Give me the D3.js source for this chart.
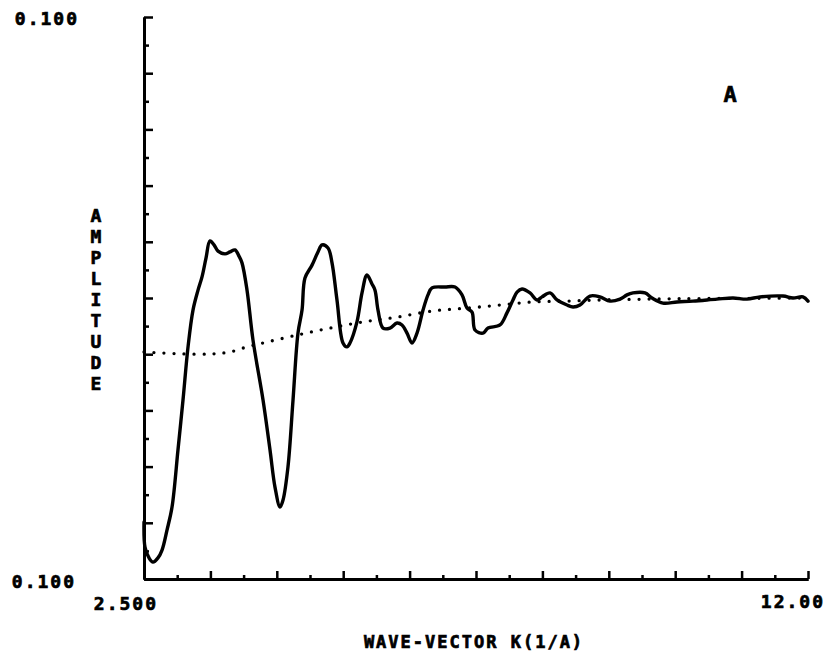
<!DOCTYPE html>
<html>
<head>
<meta charset="utf-8">
<script src="https://cdn.jsdelivr.net/npm/d3@7"></script>
<style>
  html, body { margin: 0; padding: 0; background: #fff; }
  svg { display: block; }
  text { font-family: "DejaVu Sans Mono", monospace; font-weight: bold; fill: #000; stroke: #000; stroke-width: 0.7; }
</style>
</head>
<body>
<script>
// EXAFS amplitude vs wave-vector (solid: measured amplitude, dotted: smooth background)
const kSolid = [2.500, 2.514, 2.572, 2.629, 2.700, 2.758, 2.829, 2.901, 2.986, 3.058, 3.130, 3.201, 3.273, 3.330, 3.387, 3.444, 3.502, 3.559, 3.659, 3.730, 3.802, 3.859, 3.902, 3.974, 4.059, 4.203, 4.303, 4.374, 4.446, 4.489, 4.560, 4.632, 4.703, 4.761, 4.803, 4.904, 4.989, 5.047, 5.133, 5.190, 5.261, 5.347, 5.404, 5.447, 5.547, 5.619, 5.690, 5.762, 5.805, 5.848, 5.919, 6.020, 6.120, 6.191, 6.263, 6.334, 6.406, 6.492, 6.563, 6.620, 6.806, 6.950, 7.050, 7.121, 7.193, 7.236, 7.350, 7.422, 7.593, 7.693, 7.779, 7.837, 7.908, 8.023, 8.123, 8.194, 8.309, 8.409, 8.552, 8.638, 8.738, 8.881, 9.024, 9.167, 9.310, 9.410, 9.496, 9.668, 9.768, 9.925, 10.126, 10.355, 10.698, 10.927, 11.127, 11.313, 11.642, 11.785, 11.928, 12.000];
const ampSolid = [-0.0797, -0.0886, -0.0925, -0.0940, -0.0925, -0.0897, -0.0826, -0.0744, -0.0541, -0.0363, -0.0174, -0.0043, 0.0028, 0.0075, 0.0142, 0.0203, 0.0189, 0.0167, 0.0157, 0.0164, 0.0171, 0.0149, 0.0125, 0.0028, -0.0149, -0.0363, -0.0541, -0.0673, -0.0744, -0.0719, -0.0601, -0.0363, -0.0125, -0.0043, 0.0071, 0.0117, 0.0164, 0.0189, 0.0178, 0.0125, -0.0007, -0.0160, -0.0174, -0.0160, -0.0085, 0.0018, 0.0082, 0.0050, 0.0028, -0.0043, -0.0107, -0.0107, -0.0089, -0.0096, -0.0125, -0.0160, -0.0125, -0.0043, 0.0011, 0.0036, 0.0039, 0.0039, 0.0011, -0.0036, -0.0050, -0.0114, -0.0125, -0.0107, -0.0096, -0.0053, -0.0007, 0.0021, 0.0032, 0.0018, -0.0007, 0.0004, 0.0018, -0.0007, -0.0025, -0.0032, -0.0025, 0.0007, 0.0004, -0.0011, -0.0004, 0.0011, 0.0018, 0.0018, 0.0000, -0.0018, -0.0014, -0.0011, -0.0004, 0.0000, -0.0004, 0.0004, 0.0007, 0.0000, 0.0004, -0.0011];

const kDotted = [2.500, 3.058, 3.487, 3.730, 3.974, 4.203, 4.689, 5.161, 5.633, 6.120, 6.635, 7.121, 7.593, 8.066, 8.552, 9.024, 9.496, 9.983, 10.455, 11.170, 12.000];
const ampDotted = [-0.0192, -0.0199, -0.0199, -0.0192, -0.0174, -0.0160, -0.0132, -0.0107, -0.0085, -0.0068, -0.0046, -0.0036, -0.0025, -0.0014, -0.0011, -0.0007, -0.0005, -0.0003, -0.0002, -0.0001, 0.0000];

const xTickValues = d3.range(21).map(i => 2.5 + i * 0.475);
const yTickValues = d3.range(21).map(i => -0.1 + i * 0.01);
const xTickLabels = ["2.500", "12.00"];
const yTickLabels = ["0.100", "0.100"];
const xTitle = "WAVE-VECTOR K(1/A)";
const yTitle = "AMPLITUDE";
const panelLabel = "A";

const W = 833, H = 660;
const svg = d3.select("body").append("svg").attr("width", W).attr("height", H);

const x = d3.scaleLinear().domain([2.5, 12]).range([144, 808]);
const y = d3.scaleLinear().domain([-0.1, 0.1]).range([579, 17]);

function styleAxis(g) {
  g.selectAll("path.domain").attr("stroke", "#000").attr("stroke-width", 3);
  g.selectAll(".tick line").attr("stroke", "#000").attr("stroke-width", 2.5);
  g.selectAll(".tick text").remove();
}

// y axis: ticks pointing into the plot, long every second tick
const yMinor = yTickValues.filter((d, i) => i % 2 === 1);
const yMajor = yTickValues.filter((d, i) => i % 2 === 0);
svg.append("g").attr("transform", "translate(144,0)")
  .call(d3.axisRight(y).tickValues(yMinor).tickSize(5).tickSizeOuter(0)).call(styleAxis);
svg.append("g").attr("transform", "translate(144,0)")
  .call(d3.axisRight(y).tickValues(yMajor).tickSize(9).tickSizeOuter(0)).call(styleAxis);

// x axis: ticks pointing upward
const xMinor = xTickValues.filter((d, i) => i % 2 === 1);
const xMajor = xTickValues.filter((d, i) => i % 2 === 0);
svg.append("g").attr("transform", "translate(0,579)")
  .call(d3.axisTop(x).tickValues(xMinor).tickSize(4).tickSizeOuter(0)).call(styleAxis);
svg.append("g").attr("transform", "translate(0,579)")
  .call(d3.axisTop(x).tickValues(xMajor).tickSize(8).tickSizeOuter(0)).call(styleAxis);

// end labels
svg.append("text").attr("x", 79).attr("y", y(0.1) + 8).attr("text-anchor", "end")
  .attr("font-size", 18).attr("letter-spacing", 2).text(yTickLabels[0]);
svg.append("text").attr("x", 76).attr("y", y(-0.1) + 9).attr("text-anchor", "end")
  .attr("font-size", 18).attr("letter-spacing", 2).text(yTickLabels[1]);
svg.append("text").attr("x", x(2.5) + 14).attr("y", 610).attr("text-anchor", "end")
  .attr("font-size", 18).attr("letter-spacing", 2).text(xTickLabels[0]);
svg.append("text").attr("x", x(12) + 17).attr("y", 608).attr("text-anchor", "end")
  .attr("font-size", 18).attr("letter-spacing", 2).text(xTickLabels[1]);

// axis titles
svg.append("text").attr("x", 474).attr("y", 648).attr("text-anchor", "middle")
  .attr("font-size", 17).attr("letter-spacing", 2).text(xTitle);
svg.append("g").selectAll("text").data(yTitle.split("")).join("text")
  .attr("x", 96).attr("y", (d, i) => 222 + i * 21).attr("text-anchor", "middle")
  .attr("font-size", 18).text(d => d);

svg.append("text").attr("x", 730).attr("y", 102).attr("text-anchor", "middle")
  .attr("font-size", 22).text(panelLabel);

// curves
const line = d3.line().x(d => x(d[0])).y(d => y(d[1])).curve(d3.curveCatmullRom.alpha(0.5));

svg.append("path")
  .datum(kDotted.map((k, i) => [k, ampDotted[i]]))
  .attr("d", line)
  .attr("fill", "none").attr("stroke", "#000").attr("stroke-width", 3.3)
  .attr("stroke-linecap", "round").attr("stroke-dasharray", "0 10");

svg.append("path")
  .datum(kSolid.map((k, i) => [k, ampSolid[i]]))
  .attr("d", line)
  .attr("fill", "none").attr("stroke", "#000").attr("stroke-width", 3.4)
  .attr("stroke-linejoin", "round").attr("stroke-linecap", "round");
</script>
</body>
</html>
